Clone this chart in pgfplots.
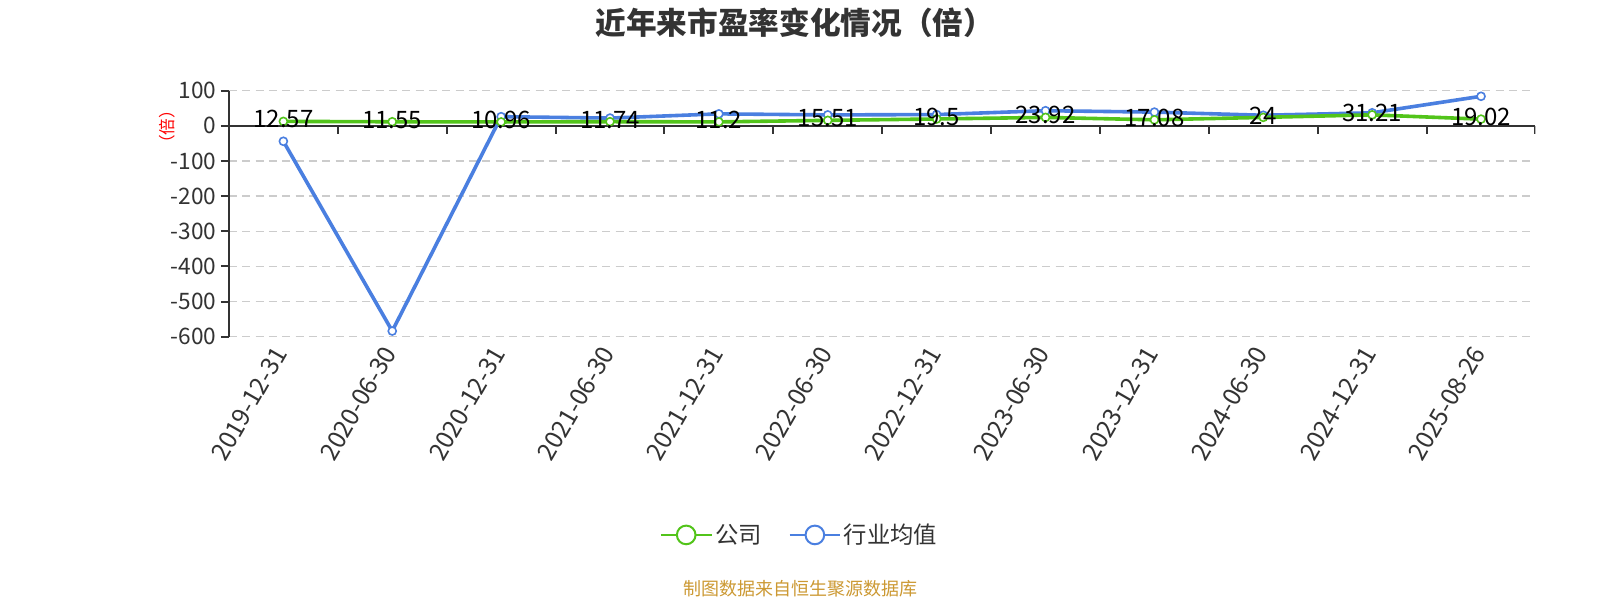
\documentclass[border=0pt]{standalone}
\usepackage{fontspec}
\setmainfont{Noto Sans CJK SC}
\usepackage{pgfplots}
\usepackage{pgfplotstable}
\pgfplotsset{compat=1.18}

\definecolor{gongsi}{RGB}{82,196,26}
\definecolor{hangye}{RGB}{74,127,224}
\definecolor{txt}{RGB}{51,51,51}
\definecolor{gridc}{RGB}{204,204,204}
\definecolor{foot}{RGB}{204,153,51}

% x: category index, gs: company P/E, hy: industry average, lab: printed label
\pgfplotstableread{
x gs hy lab
0 12.57 -44 12.57
1 11.55 -584 11.55
2 10.96 26 10.96
3 11.74 22 11.74
4 11.2 34 11.2
5 15.51 31 15.51
6 19.5 32 19.5
7 23.92 43 23.92
8 17.08 39 17.08
9 24 30 24
10 31.21 37 31.21
11 19.02 84 19.02
}\pedata

\begin{document}
\begin{tikzpicture}
\path[use as bounding box, fill=white] (0pt,0pt) rectangle (1200pt,-450pt);
\node[font=\fontsize{23pt}{27pt}\selectfont\bfseries, text=txt] at (596pt,-16.9pt) {近年来市盈率变化情况（倍）};
\node[rotate=90, text=red, font=\fontsize{12.5pt}{14pt}\selectfont] at (125pt,-95pt) {（倍）};
\node[text=foot, font=\fontsize{13.5pt}{16pt}\selectfont] at (600pt,-441.8pt) {制图数据来自恒生聚源数据库};
\begin{axis}[
  at={(171.7pt,-68pt)}, anchor=north west,
  scale only axis, width=979.9pt, height=184.5pt,
  xmin=-0.5, xmax=11.5, ymin=-600, ymax=100,
  axis x line*=bottom, axis y line*=left,
  x axis line style={draw=none},
  y axis line style={draw=txt, line width=1.5pt},
  xtick={0,...,11},
  xticklabels={2019-12-31,2020-06-30,2020-12-31,2021-06-30,2021-12-31,2022-06-30,
    2022-12-31,2023-06-30,2023-12-31,2024-06-30,2024-12-31,2025-08-26},
  xtick style={draw=none},
  xticklabel style={rotate=60, anchor=east, text=txt, font=\fontsize{18.5pt}{22pt}\selectfont},
  ytick={-600,-500,...,100},
  ytick style={draw=txt, line width=1.5pt},
  yticklabel style={text=txt, font=\fontsize{17pt}{20pt}\selectfont},
  /pgf/number format/assume math mode=true,
  tick align=outside, major tick length=6pt,
  ymajorgrids, grid style={gridc, line width=1.1pt, dash pattern=on 6pt off 4pt},
  legend image code/.code={
    \draw[#1, line width=1.5pt] (0pt,0pt) -- (38pt,0pt);
    \draw[#1, line width=1.5pt, fill=white] (19pt,0pt) circle (7pt);
  },
  legend style={at={(0.437,-0.806)}, anchor=center, draw=none, fill=none,
    text=txt, font=\fontsize{17.5pt}{20pt}\selectfont,
    /tikz/every even column/.append style={column sep=18pt}},
  legend columns=-1,
]
\addlegendimage{gongsi}
\addlegendentry{公司}
\addlegendimage{hangye}
\addlegendentry{行业均值}

% x axis sits on zero
\draw[txt, line width=1.5pt] (axis cs:-0.5,0) -- (axis cs:11.5,0);
\pgfplotsinvokeforeach{-0.5,0.5,...,11.5}{
  \draw[txt, line width=1.5pt] (axis cs:#1,0) -- ++(0pt,-6pt);
}

\addplot[hangye, line width=2.7pt, forget plot, mark=*, mark size=3pt,
  mark options={fill=white, line width=1.2pt}] table[x=x, y=hy] {\pedata};
\addplot[gongsi, line width=2.7pt, forget plot, mark=*, mark size=3pt,
  mark options={fill=white, line width=1.2pt},
  nodes near coords, point meta=explicit symbolic,
  every node near coord/.append style={anchor=center, yshift=1.5pt, text=black,
    font=\fontsize{18pt}{21pt}\selectfont}] table[x=x, y=gs, meta=lab] {\pedata};
\end{axis}
\end{tikzpicture}
\end{document}
